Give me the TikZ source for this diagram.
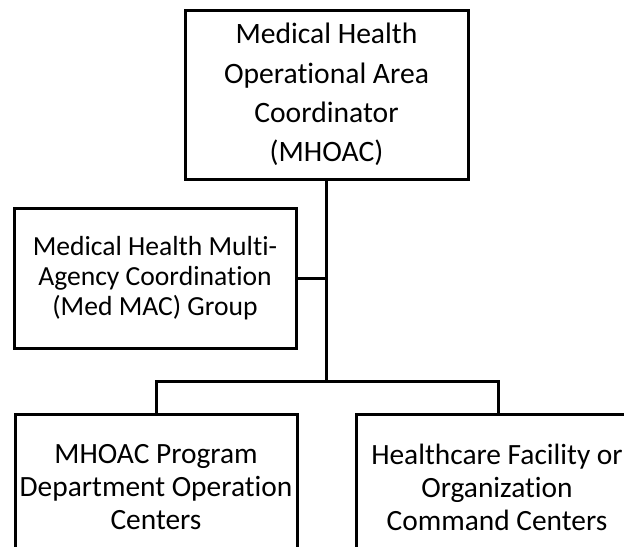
\documentclass[tikz,border=0pt]{standalone}
\usepackage{fontspec}
\setmainfont{Carlito}[Ligatures=NoCommon]
\usetikzlibrary{positioning,calc}

\tikzset{
  orgbox/.style={draw, line width=1.5pt, inner sep=0pt, align=center},
  boxtext/.style={inner sep=0pt, align=center, font=\fontsize{14.7}{16.5}\selectfont},
  link/.style={line width=1.5pt}
}

\begin{document}
\begin{tikzpicture}[x=0.5pt,y=-0.5pt]
            \useasboundingbox (0,0) rectangle (624,546);
            \clip (0,0) rectangle (624,546);

            % Coordinator
            \node[orgbox, minimum width=141.5pt, minimum height=84.5pt,
                  font=\fontsize{14.8}{19.6}\selectfont] (mhoac) at (326.5,94.5)
                  {Medical Health\\Operational Area\\Coordinator\\(MHOAC)};

            % Med MAC group
            \node[orgbox, minimum width=141pt, minimum height=70pt,
                  font=\fontsize{13.8}{15}\selectfont] (medmac) at (155,278)
                  {Medical Health Multi-\\Agency Coordination\\(Med MAC) Group};

            % Centers below (boxes run past the lower edge)
            \node[orgbox, minimum width=141pt, minimum height=83pt] (dept) at (156,497) {};
            \node[orgbox, minimum width=142pt, minimum height=83pt] (facility) at (498,497) {};
            \node[boxtext] (depttext) at (156,487)
                  {MHOAC Program\\Department Operation\\Centers};
            \node[boxtext] (facilitytext) at (497,487)
                  {Healthcare Facility or\\Organization\\Command Centers};

            % Lines
            \coordinate (bus) at (326.5,381);
            \draw[link] (mhoac.south) -- (bus);
            \draw[link] (medmac.east) -- (medmac.east -| mhoac.south);
            \draw[link] (dept.north) |- (bus) -| (facility.north);
        \end{tikzpicture}
\end{document}
